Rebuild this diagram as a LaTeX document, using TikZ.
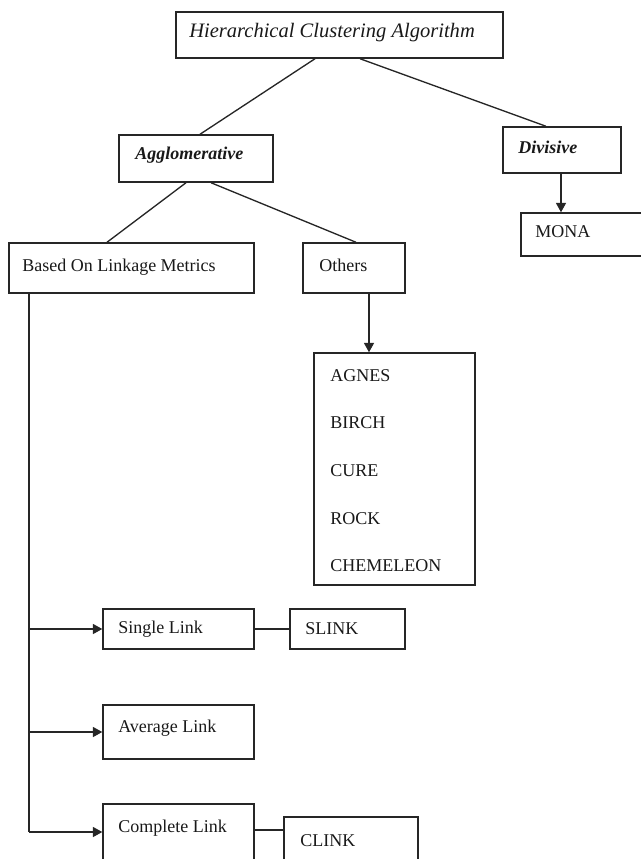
\documentclass[tikz,border=0pt]{standalone}
\usepackage{fontspec}
\setmainfont{Liberation Serif}
\usetikzlibrary{arrows.meta,calc}
\begin{document}
\begin{tikzpicture}[x=0.75pt,y=-0.75pt,
  box/.style={draw=black!85,line width=1.1pt,rectangle,inner sep=0pt},
  txt/.style={anchor=base west,inner sep=0pt,font=\fontsize{13.5}{16}\selectfont,text=black!90},
  conn/.style={draw=black!85,line width=1pt},
  arr/.style={conn,-{Triangle[length=7pt,width=7.5pt]}}]
\useasboundingbox (0,0) rectangle (641,859);
\clip (0,0) rectangle (641,859);
% boxes
\node[box,minimum width=327*0.75pt,minimum height=46*0.75pt] (top) at (339.5,35) {};
\node[box,minimum width=154*0.75pt,minimum height=47*0.75pt] (agg) at (196,158.5) {};
\node[box,minimum width=118*0.75pt,minimum height=46*0.75pt] (div) at (562,150) {};
\node[box,minimum width=139*0.75pt,minimum height=43*0.75pt] (mona) at (590.5,234.5) {};
\node[box,minimum width=245*0.75pt,minimum height=50*0.75pt] (bolm) at (131.5,268) {};
\node[box,minimum width=102*0.75pt,minimum height=50*0.75pt] (oth) at (354,268) {};
\node[box,minimum width=161*0.75pt,minimum height=232*0.75pt] (list) at (394.5,469) {};
\node[box,minimum width=151*0.75pt,minimum height=40*0.75pt] (single) at (178.5,629) {};
\node[box,minimum width=115*0.75pt,minimum height=40*0.75pt] (slink) at (347.5,629) {};
\node[box,minimum width=151*0.75pt,minimum height=54*0.75pt] (avg) at (178.5,732) {};
\node[box,minimum width=151*0.75pt,minimum height=66*0.75pt] (comp) at (178.5,837) {};
\node[box,minimum width=134*0.75pt,minimum height=53*0.75pt] (clink) at (351,843.5) {};
% texts
\node[txt,font=\fontsize{15.4}{18}\selectfont\itshape] (ttop) at (189,38) {Hierarchical Clustering Algorithm};
\node[txt,font=\fontsize{13.5}{16}\selectfont\bfseries\itshape] (tagg) at (135,160) {Agglomerative};
\node[txt,font=\fontsize{13.5}{16}\selectfont\bfseries\itshape] (tdiv) at (518,154) {Divisive};
\node[txt] (tmona) at (535,238) {MONA};
\node[txt] (tbolm) at (22,271) {Based On Linkage Metrics};
\node[txt] (toth) at (319,271) {Others};
\node[txt] (t1) at (330,381) {AGNES};
\node[txt] (t2) at (330,428) {BIRCH};
\node[txt] (t3) at (330,476) {CURE};
\node[txt] (t4) at (330,524) {ROCK};
\node[txt] (t5) at (330,571) {CHEMELEON};
\node[txt] (tsingle) at (118,633) {Single Link};
\node[txt] (tslink) at (305,634) {SLINK};
\node[txt] (tavg) at (118,732) {Average Link};
\node[txt] (tcomp) at (118,832) {Complete Link};
\node[txt] (tclink) at (300,846) {CLINK};
% coordinates
\coordinate (xa) at (315,0);
\coordinate (xb) at (200,0);
\coordinate (xc) at (360,0);
\coordinate (xd) at (546,0);
\coordinate (xe) at (561,0);
\coordinate (xf) at (186,0);
\coordinate (xg) at (107,0);
\coordinate (xh) at (211,0);
\coordinate (xi) at (356,0);
\coordinate (xj) at (369,0);
\coordinate (trunk) at (29,832);
\coordinate (yc) at (0,830);
% connectors
\draw[conn] (top.south -| xa) -- (agg.north -| xb);
\draw[conn] (top.south -| xc) -- (div.north -| xd);
\draw[arr] (div.south -| xe) -- (mona.north -| xe);
\draw[conn] (agg.south -| xf) -- (bolm.north -| xg);
\draw[conn] (agg.south -| xh) -- (oth.north -| xi);
\draw[arr] (oth.south -| xj) -- (list.north -| xj);
\draw[conn] (bolm.south -| trunk) -- (trunk);
\draw[arr] (single.west -| trunk) -- (single.west);
\draw[arr] (avg.west -| trunk) -- (avg.west);
\draw[arr] (trunk) -- (comp.west |- trunk);
\draw[conn] (single.east) -- (slink.west);
\draw[conn] (comp.east |- yc) -- (clink.west |- yc);
\end{tikzpicture}
\end{document}
